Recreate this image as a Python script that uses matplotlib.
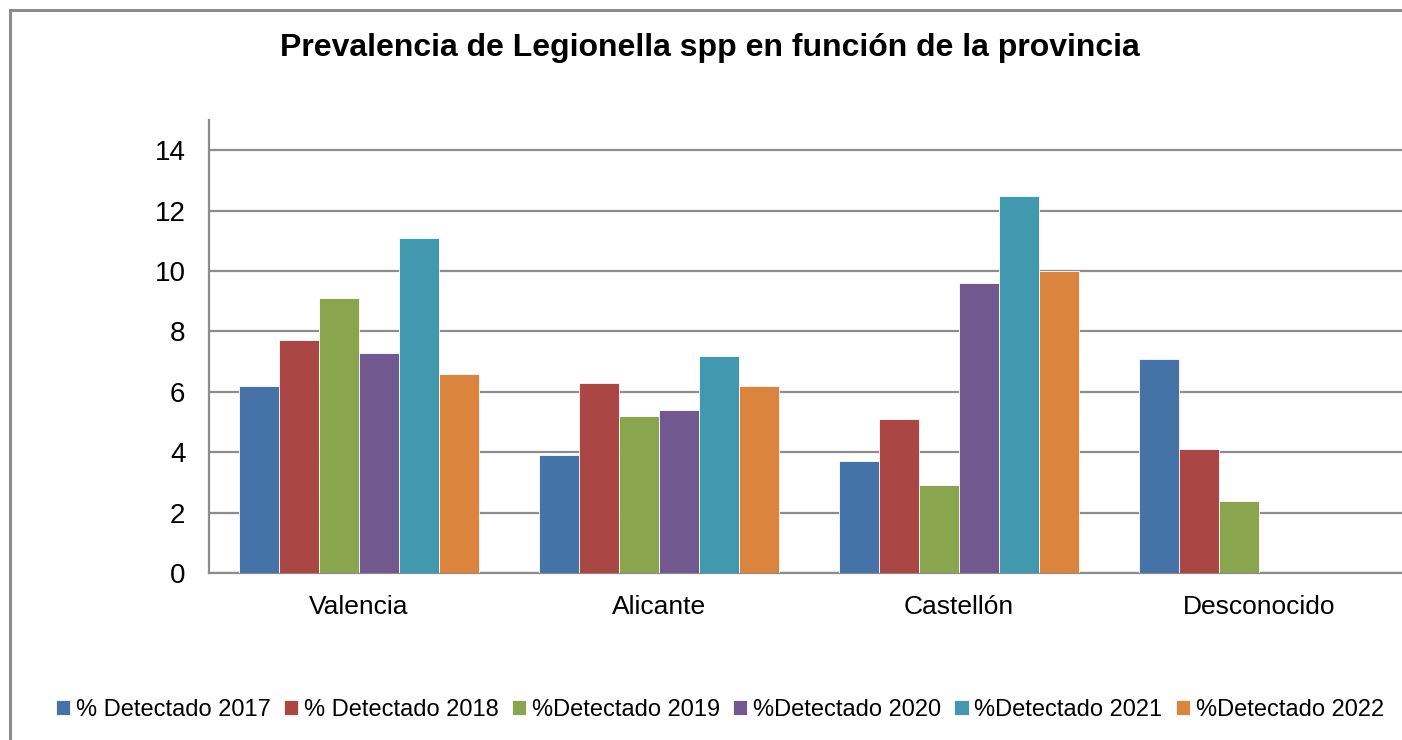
import numpy as np
import matplotlib.pyplot as plt
from matplotlib.patches import Rectangle

plt.rcParams['font.family'] = ['Liberation Sans', 'DejaVu Sans']

provincias = ["Valencia", "Alicante", "Castellón", "Desconocido"]
series = ["% Detectado 2017", "% Detectado 2018", "%Detectado 2019",
          "%Detectado 2020", "%Detectado 2021", "%Detectado 2022"]
d2017 = [6.2, 3.9, 3.7, 7.1]
d2018 = [7.7, 6.3, 5.1, 4.1]
d2019 = [9.1, 5.2, 2.9, 2.4]
d2020 = [7.3, 5.4, 9.6, 0]
d2021 = [11.1, 7.2, 12.5, 0]
d2022 = [6.6, 6.2, 10.0, 0]
values = [d2017, d2018, d2019, d2020, d2021, d2022]
colors = ["#4572A7", "#AA4643", "#89A54E", "#71588F", "#4198AF", "#DB843D"]

W, H = 1402, 740
fig = plt.figure(figsize=(W / 100, H / 100), dpi=100)

# chart border (right and bottom edges fall outside the picture)
fig.patches.append(Rectangle((10 / W, -0.1), 1.2, 1 - 10 / H + 0.1,
                             transform=fig.transFigure, fill=False,
                             edgecolor="#8c8c8c", lw=2.2))

ax = fig.add_axes([209 / W, (H - 573) / H, 1200 / W, 453 / H])

x = np.arange(len(provincias))
bw = 0.8 / len(series)
for i, (name, vals) in enumerate(zip(series, values)):
    ax.bar(x - 0.4 + bw * (i + 0.5), vals, bw, color=colors[i], label=name,
           edgecolor="white", linewidth=0.6, zorder=3)

ax.set_xlim(-0.5, 3.5)
ax.set_ylim(0, 15)
ax.set_yticks(range(0, 15, 2))
ax.set_xticks(x)
ax.set_xticklabels(provincias)
ax.tick_params(axis="both", length=0, labelsize=19)
ax.tick_params(axis="y", labelsize=20, pad=17)
ax.tick_params(axis="x", pad=16)
ax.grid(axis="y", color="#8c8c8c", lw=1.6, zorder=1)
for s in ["top", "right"]:
    ax.spines[s].set_visible(False)
for s in ["left", "bottom"]:
    ax.spines[s].set_color("#8c8c8c")
    ax.spines[s].set_linewidth(1.6)

fig.text(710 / W, 1 - 48 / H, "Prevalencia de Legionella spp en función de la provincia",
         ha="center", va="center", fontsize=23, fontweight="bold")

fig.legend(loc="center", bbox_to_anchor=(720 / W, 1 - 710 / H), ncol=6,
           frameon=False, fontsize=17, handlelength=0.6, handleheight=0.6,
           handletextpad=0.25, columnspacing=0.55, borderaxespad=0)

fig.savefig("out.png", dpi=100)
